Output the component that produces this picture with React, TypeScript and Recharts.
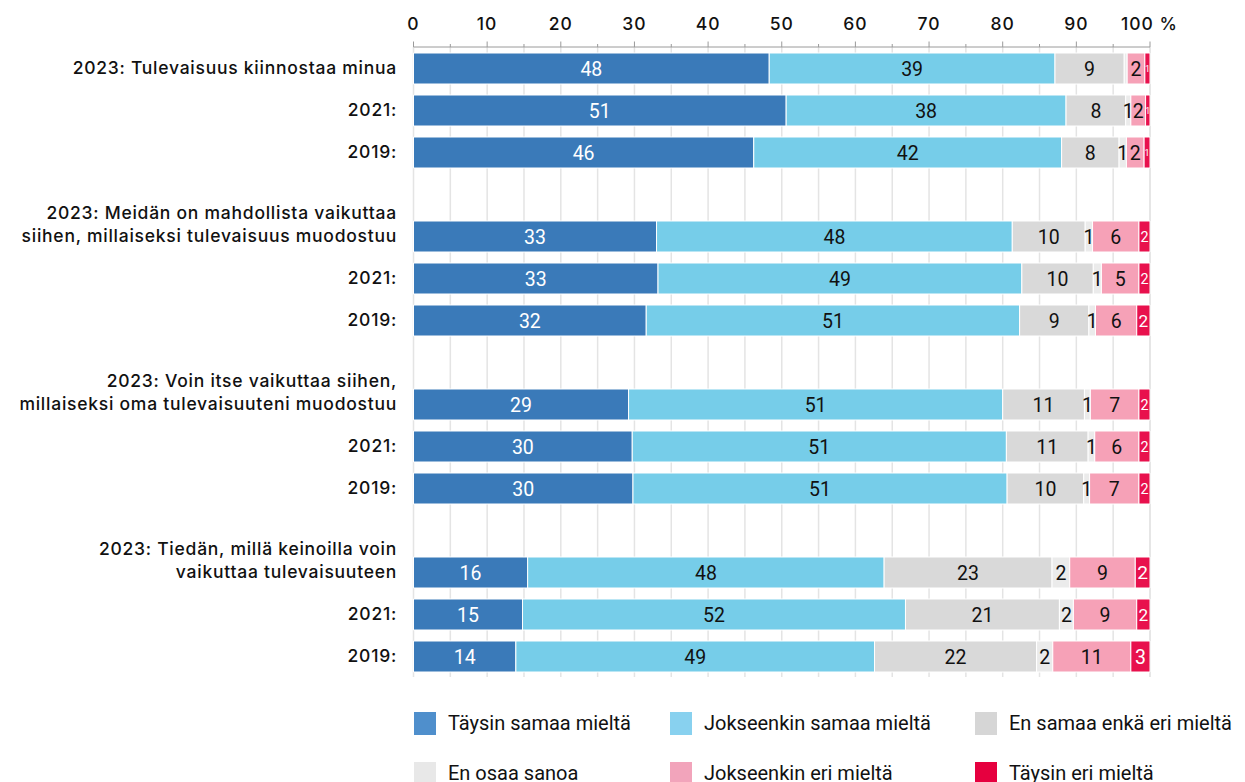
import React from "react";
import {
  Bar,
  BarChart,
  CartesianGrid,
  LabelList,
  XAxis,
  YAxis,
} from "recharts";

// row labels, top to bottom ("" = spacer row between groups, "|" = line break)
const rowLabels = [
  "2023: Tulevaisuus kiinnostaa minua",
  "2021:",
  "2019:",
  "",
  "2023: Meidän on mahdollista vaikuttaa|siihen, millaiseksi tulevaisuus muodostuu",
  "2021:",
  "2019:",
  "",
  "2023: Voin itse vaikuttaa siihen,|millaiseksi oma tulevaisuuteni muodostuu",
  "2021:",
  "2019:",
  "",
  "2023: Tiedän, millä keinoilla voin|vaikuttaa tulevaisuuteen",
  "2021:",
  "2019:",
];

const seriesNames = [
  "Täysin samaa mieltä",
  "Jokseenkin samaa mieltä",
  "En samaa enkä eri mieltä",
  "En osaa sanoa",
  "Jokseenkin eri mieltä",
  "Täysin eri mieltä",
];

const taysinSamaa = [48.3, 50.6, 46.2, null, 33.0, 33.2, 31.6, null, 29.2, 29.7, 29.8, null, 15.5, 14.8, 13.9];
const jokseenkinSamaa = [38.8, 38.0, 41.8, null, 48.3, 49.4, 50.7, null, 50.8, 50.8, 50.8, null, 48.4, 52.0, 48.7];
const enSamaaEnkaEri = [9.4, 8.1, 7.8, null, 9.9, 9.7, 9.4, null, 11.1, 11.1, 10.4, null, 22.8, 20.9, 22.0];
const enOsaaSanoa = [0.4, 0.7, 1.0, null, 1.0, 1.1, 0.9, null, 0.8, 0.9, 0.8, null, 2.4, 1.9, 2.2];
const jokseenkinEri = [2.4, 2.0, 2.4, null, 6.3, 5.1, 5.6, null, 6.6, 6.0, 6.7, null, 8.9, 8.6, 10.6];
const taysinEri = [0.7, 0.6, 0.8, null, 1.5, 1.5, 1.8, null, 1.5, 1.5, 1.5, null, 2.0, 1.8, 2.6];

const seriesValues = [
  taysinSamaa,
  jokseenkinSamaa,
  enSamaaEnkaEri,
  enOsaaSanoa,
  jokseenkinEri,
  taysinEri,
];

const axisTicks = [0, 5, 10, 15, 20, 25, 30, 35, 40, 45, 50, 55, 60, 65, 70, 75, 80, 85, 90, 95, 100];

const barColors = ["#3a7ab9", "#76cde9", "#d9d9d9", "#ebebeb", "#f6a1b7", "#e8114d"];
const legendColors = ["#4f8fcc", "#88d1ef", "#d6d6d6", "#e8e8e8", "#f2a4bb", "#e6003f"];
const labelColors = ["#fff", "#111", "#111", "#111", "#111", "#fff"];

const data = rowLabels.map((label, i) => {
  const row: Record<string, any> = { key: `r${i}`, label };
  seriesNames.forEach((name, s) => {
    row[name] = seriesValues[s][i];
  });
  return row;
});

const W = 1245;
const H = 782;
const AXIS_Y = 47;
const MARGIN = { top: AXIS_Y - 30, right: 95, bottom: 105, left: 8.5 };
const FONT = "Inter, 'Open Sans', sans-serif";

const XTick = (props: any) => {
  const { x, payload } = props;
  const v = payload.value;
  const major = v % 10 === 0;
  return (
    <g>
      <line
        x1={x}
        x2={x}
        y1={AXIS_Y - (major ? 5.5 : 3)}
        y2={AXIS_Y}
        stroke="#9a9a9a"
        strokeWidth={1}
      />
      {major && (
        <text
          x={v === 100 ? x - 29 : x}
          y={30}
          textAnchor={v === 100 ? "start" : "middle"}
          fontFamily={FONT}
          fontWeight={500}
          fontSize={17.5}
          letterSpacing={1}
          fill="#111"
        >
          {v === 100 ? "100 %" : v}
        </text>
      )}
    </g>
  );
};

const YTick = (props: any) => {
  const { y, payload } = props;
  const row = data.find((d) => d.key === payload.value);
  if (!row || !row.label) return null;
  const lines = String(row.label).split("|");
  return (
    <g>
      {lines.map((ln, i) => (
        <text
          key={i}
          x={397}
          y={y + 6 - (lines.length - 1 - i) * 23.5}
          textAnchor="end"
          fontFamily={FONT}
          fontWeight={500}
          fontSize={17.5}
          letterSpacing={0.75}
          fill="#111"
        >
          {ln}
        </text>
      ))}
    </g>
  );
};

const makeLabel = (s: number) => (props: any) => {
  const { x, y, width, height, value } = props;
  if (value == null) return null;
  const shown = Math.round(Number(value));
  if (!shown) return null;
  let size = 19.5;
  if (s === 5) size = Math.max(9, Math.min(19.5, width * 1.3));
  return (
    <text
      x={x + width / 2}
      y={y + height / 2 + size * 0.36}
      textAnchor="middle"
      fontFamily="Roboto, sans-serif"
      fontSize={size}
      fill={labelColors[s]}
    >
      {shown}
    </text>
  );
};

const ChartLegend = () => {
  const cols = [414, 670, 975];
  const rows = [711, 761];
  return (
    <>
      {seriesNames.map((name, i) => (
        <div
          key={name}
          style={{
            position: "absolute",
            left: cols[i % 3],
            top: rows[Math.floor(i / 3)],
            display: "flex",
            alignItems: "center",
            fontFamily: "Roboto, sans-serif",
            fontSize: 20,
            color: "#111",
            whiteSpace: "nowrap",
          }}
        >
          <span
            style={{
              display: "inline-block",
              width: 22,
              height: 23,
              background: legendColors[i],
              marginRight: 12,
            }}
          />
          {name}
        </div>
      ))}
    </>
  );
};

export default function App() {
  return (
    <div style={{ position: "relative", width: W, height: H, overflow: "hidden" }}>
      <style>{`body{margin:0;overflow:hidden;background:#fff}`}</style>
      <BarChart
        width={W}
        height={H}
        data={data}
        layout="vertical"
        margin={MARGIN}
        barSize={31}
      >
        <CartesianGrid horizontal={false} stroke="#e4e4e4" strokeWidth={1.5} />
        <XAxis
          type="number"
          orientation="top"
          height={30}
          domain={[0, 100]}
          ticks={axisTicks}
          interval={0}
          axisLine={{ stroke: "#9a9a9a" }}
          tickLine={false}
          tick={<XTick />}
        />
        <YAxis
          type="category"
          dataKey="key"
          width={405}
          axisLine={false}
          tickLine={false}
          interval={0}
          tick={<YTick />}
        />
        {seriesNames.map((name, s) => (
          <Bar
            key={name}
            dataKey={name}
            stackId="a"
            fill={barColors[s]}
            stroke="#fff"
            strokeWidth={1}
            isAnimationActive={false}
          >
            <LabelList dataKey={name} content={makeLabel(s)} />
          </Bar>
        ))}
      </BarChart>
      <ChartLegend />
    </div>
  );
}
